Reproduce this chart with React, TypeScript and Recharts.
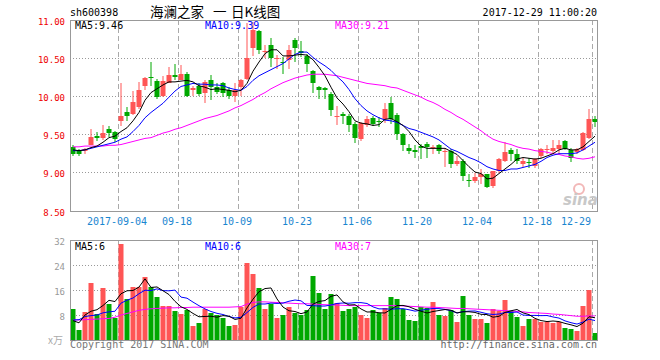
import React from 'react';
import { ComposedChart, Bar, Line, XAxis, YAxis } from 'recharts';

// ---------- data ----------
const dates: string[] = [
  '2017-08-22','2017-08-23','2017-08-24','2017-08-25','2017-08-28','2017-08-29','2017-08-30','2017-08-31',
  '2017-09-04','2017-09-05','2017-09-06','2017-09-07','2017-09-08','2017-09-11','2017-09-12','2017-09-13','2017-09-14','2017-09-15',
  '2017-09-18','2017-09-19','2017-09-20','2017-09-21','2017-09-22','2017-09-25','2017-09-26','2017-09-27','2017-09-28','2017-09-29',
  '2017-10-09','2017-10-10','2017-10-11','2017-10-12','2017-10-13','2017-10-16','2017-10-17','2017-10-18','2017-10-19','2017-10-20',
  '2017-10-23','2017-10-24','2017-10-25','2017-10-26','2017-10-27','2017-10-30','2017-10-31',
  '2017-11-01','2017-11-02','2017-11-03','2017-11-06','2017-11-07','2017-11-08','2017-11-09','2017-11-10',
  '2017-11-13','2017-11-14','2017-11-15','2017-11-16','2017-11-17','2017-11-20','2017-11-21','2017-11-22','2017-11-23','2017-11-24',
  '2017-11-27','2017-11-28','2017-11-29','2017-11-30','2017-12-01','2017-12-04','2017-12-05','2017-12-06','2017-12-07','2017-12-08',
  '2017-12-11','2017-12-12','2017-12-13','2017-12-14','2017-12-15','2017-12-18','2017-12-19','2017-12-20','2017-12-21','2017-12-22',
  '2017-12-25','2017-12-26','2017-12-27','2017-12-28','2017-12-29',
];

const tickDates: string[] = ['2017-09-04','2017-09-18','2017-10-09','2017-10-23','2017-11-06','2017-11-20','2017-12-04','2017-12-18','2017-12-29'];
const tickLabels: string[] = ['2017-09-04','09-18','10-09','10-23','11-06','11-20','12-04','12-18','12-29'];

const priceTicks: number[] = [8.5, 9, 9.5, 10, 10.5, 11];
const volTicks: number[] = [8, 16, 24, 32];

const opens: number[] = [
  9.34,9.30,9.28,9.37,9.48,9.46,9.57,9.54,9.68,9.79,
  9.77,9.86,10.13,10.25,10.20,10.00,10.18,10.28,10.22,10.29,
  10.08,10.14,10.04,10.21,10.12,10.17,10.08,10.00,10.12,10.23,
  10.63,10.85,10.58,10.67,10.49,10.45,10.47,10.74,10.59,10.53,
  10.33,10.12,10.11,10.03,9.74,9.77,9.74,9.64,9.44,9.63,
  9.72,9.68,9.71,9.91,9.76,9.51,9.33,9.30,9.35,9.38,
  9.32,9.36,9.28,9.29,9.11,9.16,8.90,8.89,8.95,8.98,
  8.83,9.02,9.15,9.30,9.25,9.12,9.14,9.09,9.22,9.30,
  9.29,9.31,9.42,9.30,9.27,9.30,9.46,9.71,
];
const closes: number[] = [
  9.25,9.25,9.31,9.47,9.46,9.52,9.52,9.44,9.75,9.74,
  9.93,10.09,10.24,10.24,9.99,10.20,10.28,10.26,10.29,10.00,
  10.11,10.03,10.19,10.12,10.06,10.04,10.00,10.08,10.21,10.50,
  10.87,10.61,10.59,10.50,10.50,10.44,10.61,10.64,10.57,10.43,
  10.17,10.09,10.08,9.82,9.75,9.74,9.63,9.46,9.65,9.71,
  9.64,9.67,9.84,9.71,9.51,9.36,9.28,9.27,9.33,9.34,
  9.34,9.29,9.29,9.11,9.16,8.96,8.89,8.94,8.98,8.81,
  9.02,9.18,9.27,9.25,9.16,9.16,9.13,9.18,9.31,9.31,
  9.32,9.37,9.31,9.20,9.31,9.52,9.71,9.66,
];
const highs: number[] = [
  9.36,9.31,9.33,9.57,9.53,9.63,9.61,9.55,10.17,9.86,
  10.07,10.19,10.25,10.45,10.23,10.27,10.39,10.42,10.41,10.32,
  10.14,10.17,10.21,10.28,10.17,10.19,10.12,10.17,10.23,10.96,
  10.97,10.87,10.67,10.77,10.54,10.52,10.67,10.76,10.72,10.56,
  10.34,10.14,10.12,10.06,9.88,9.79,9.77,9.66,9.66,9.74,
  9.75,9.73,9.91,9.99,9.78,9.52,9.38,9.36,9.38,9.40,
  9.36,9.38,9.31,9.31,9.22,9.18,8.98,9.00,9.05,8.99,
  9.03,9.20,9.40,9.33,9.31,9.20,9.20,9.20,9.33,9.36,
  9.43,9.43,9.43,9.33,9.33,9.53,9.84,9.75,
];
const lows: number[] = [
  9.22,9.22,9.24,9.36,9.42,9.43,9.47,9.40,9.61,9.68,
  9.76,9.84,10.09,10.13,9.97,9.99,10.18,10.22,10.21,9.99,
  10.00,10.00,9.92,9.95,10.03,9.99,9.96,9.93,10.00,10.22,
  10.53,10.56,10.50,10.39,10.36,10.29,10.36,10.45,10.52,10.32,
  10.04,9.97,9.96,9.75,9.62,9.64,9.53,9.39,9.41,9.60,
  9.61,9.60,9.65,9.64,9.43,9.29,9.24,9.20,9.18,9.20,
  9.24,9.24,9.07,9.06,9.09,8.89,8.81,8.87,8.85,8.80,
  8.80,9.00,9.14,9.16,9.11,9.07,9.06,9.06,9.20,9.25,
  9.25,9.25,9.30,9.14,9.25,9.29,9.44,9.60,
];
const ma5: number[] = [
  9.30,9.29,9.30,9.33,9.35,9.40,9.46,9.48,9.54,9.59,
  9.68,9.79,9.95,10.05,10.10,10.15,10.19,10.19,10.20,10.21,
  10.19,10.14,10.12,10.09,10.10,10.09,10.08,10.06,10.08,10.17,
  10.33,10.45,10.56,10.61,10.61,10.53,10.53,10.54,10.55,10.54,
  10.48,10.38,10.27,10.12,9.98,9.90,9.80,9.68,9.65,9.64,
  9.62,9.63,9.70,9.71,9.67,9.62,9.54,9.43,9.35,9.32,
  9.32,9.32,9.32,9.28,9.24,9.16,9.08,9.01,8.99,8.92,
  8.93,8.99,9.05,9.11,9.18,9.20,9.19,9.18,9.19,9.22,
  9.25,9.30,9.32,9.30,9.30,9.34,9.41,9.48,
];
const ma10: number[] = [
  9.29,9.29,9.30,9.32,9.34,9.36,9.38,9.40,9.44,9.47,
  9.54,9.62,9.72,9.79,9.85,9.91,9.99,10.07,10.13,10.15,
  10.17,10.16,10.16,10.15,10.15,10.14,10.11,10.09,10.08,10.13,
  10.21,10.27,10.31,10.35,10.39,10.43,10.49,10.55,10.58,10.58,
  10.51,10.45,10.40,10.34,10.26,10.19,10.09,9.97,9.88,9.81,
  9.76,9.72,9.69,9.68,9.66,9.62,9.58,9.56,9.53,9.50,
  9.47,9.43,9.37,9.31,9.28,9.24,9.20,9.17,9.13,9.08,
  9.05,9.03,9.03,9.05,9.05,9.07,9.09,9.11,9.15,9.20,
  9.23,9.25,9.25,9.25,9.26,9.30,9.35,9.40,
];
const ma30: number[] = [
  9.34,9.34,9.35,9.35,9.35,9.35,9.36,9.36,9.37,9.39,
  9.41,9.43,9.45,9.46,9.49,9.52,9.54,9.57,9.59,9.62,
  9.65,9.68,9.71,9.73,9.75,9.78,9.81,9.85,9.88,9.92,
  9.96,10.01,10.05,10.10,10.14,10.18,10.21,10.24,10.26,10.28,
  10.29,10.29,10.29,10.28,10.27,10.25,10.23,10.21,10.19,10.17,
  10.16,10.15,10.14,10.12,10.11,10.08,10.05,10.02,9.99,9.95,
  9.92,9.88,9.83,9.79,9.74,9.70,9.65,9.60,9.55,9.49,
  9.44,9.41,9.39,9.37,9.34,9.32,9.31,9.29,9.28,9.27,
  9.25,9.24,9.22,9.21,9.19,9.18,9.19,9.21,
];
const volumes: number[] = [
  9.9,3.2,9.0,18.2,8.2,16.6,11.5,7.0,30.7,13.0,
  17.0,17.0,20.2,16.9,13.8,10.9,10.9,9.3,8.3,9.5,
  4.5,5.5,9.9,8.6,8.0,7.0,4.5,4.8,10.5,24.5,
  21.0,16.5,9.8,11.5,6.9,8.0,10.6,8.6,8.0,9.7,
  20.5,14.9,10.0,14.8,11.9,9.4,9.9,10.5,8.0,7.0,
  9.6,8.5,10.1,13.8,13.1,9.8,6.4,6.1,10.7,10.2,
  12.2,8.0,7.7,9.6,5.8,14.1,8.0,6.6,6.6,5.4,
  9.9,9.4,12.8,9.3,7.4,4.5,6.7,6.7,5.8,5.8,
  5.4,5.8,3.8,3.5,3.0,10.9,16.0,2.2,
];
const vma5: number[] = [
  6.2,5.5,8.0,9.2,9.7,11.04,12.7,12.3,14.8,15.76,
  15.84,16.94,19.58,16.82,16.98,15.76,14.54,12.36,10.64,9.78,
  8.5,7.42,7.54,7.6,7.3,7.8,7.6,6.58,6.96,10.26,
  13.06,15.46,16.46,16.66,13.14,10.54,9.36,9.12,8.42,8.98,
  11.48,12.34,12.62,13.98,14.42,12.2,11.2,11.3,9.94,8.96,
  9.0,8.72,8.64,9.8,11.02,11.06,10.64,9.84,9.22,8.64,
  9.12,9.44,9.76,9.54,8.66,9.04,9.04,8.82,8.22,8.14,
  7.3,7.58,8.82,9.36,9.76,8.68,8.14,6.92,6.22,5.9,
  6.08,5.9,5.32,4.86,4.3,5.4,7.44,7.12,
];
const vma10: number[] = [
  6.4,6.5,7.5,7.8,8.0,8.7,9.0,9.2,11.8,12.73,
  13.44,14.82,15.94,15.81,16.37,15.8,15.74,15.97,13.73,13.38,
  12.13,10.98,9.95,9.12,8.54,8.15,7.51,7.06,7.28,8.78,
  10.43,11.53,11.52,11.81,11.7,11.8,12.41,12.79,12.54,11.06,
  11.01,10.85,10.87,11.2,11.7,11.84,11.77,11.96,11.96,11.69,
  10.6,9.96,9.97,9.87,9.99,10.03,9.68,9.24,9.51,9.83,
  10.09,10.04,9.8,9.38,8.65,9.08,9.24,9.29,8.88,8.4,
  8.17,8.31,8.82,8.79,8.95,7.99,7.86,7.87,7.79,7.83,
  7.38,7.02,6.12,5.54,5.1,5.74,6.67,6.22,
];
const vma30: number[] = [
  6.4,6.4,6.5,6.6,6.7,6.8,6.9,7.3,8.0,8.5,
  9.0,9.5,9.8,10.0,10.1,10.2,10.3,10.3,10.4,10.4,
  10.5,10.5,10.5,10.5,10.5,10.5,10.5,10.6,10.7,11.5,
  12.0,12.2,12.2,12.1,12.0,11.9,11.8,11.7,11.6,11.6,
  11.5,11.4,11.3,11.2,11.2,11.1,11.0,11.0,11.0,11.0,
  11.0,11.0,11.0,11.0,11.0,10.9,10.8,10.7,10.6,10.5,
  10.5,10.4,10.3,10.2,10.1,10.1,10.0,9.9,9.8,9.7,
  9.6,9.5,9.4,9.3,9.1,9.0,8.8,8.7,8.6,8.5,
  8.3,8.2,8.0,7.8,7.6,7.6,7.7,7.7,
];

const rows = dates.map((date, i) => ({
  date,
  open: opens[i],
  close: closes[i],
  high: highs[i],
  low: lows[i],
  ma5: ma5[i],
  ma10: ma10[i],
  ma30: ma30[i],
  volume: volumes[i],
  vma5: vma5[i],
  vma10: vma10[i],
  vma30: vma30[i],
}));

// ---------- style / layout ----------
const RED = '#ff5555';
const GREEN = '#00a800';
const MONO = '"DejaVu Sans Mono", "Liberation Mono", monospace';
const CJK = '"Noto Sans CJK SC", sans-serif';
const PLOT_L = 70;
const PLOT_R = 598;
const P_TOP = 20;
const P_BOTTOM = 211;
const V_TOP = 10; // local to volume chart (page 240)
const V_BOTTOM = 110; // local (page 340)
const tickSet = new Set(tickDates);
const lastTick = tickDates[tickDates.length - 1];

const Candle = (props: any) => {
  const { x, width, y, height, payload } = props;
  if (payload == null) return null;
  const { open, close, high, low } = payload;
  const cx = x + width / 2;
  const top = Math.min(y, y + height);
  const h = Math.abs(height);
  const k = high > low ? h / (high - low) : 0;
  const yOf = (v: number) => top + (high - v) * k;
  const up = close >= open;
  const color = up ? RED : GREEN;
  const bTop = Math.round(yOf(Math.max(open, close)));
  const bBot = Math.round(yOf(Math.min(open, close)));
  const wx = cx - 0.5;
  return (
    <g>
      <line x1={wx} x2={wx} y1={Math.round(yOf(high))} y2={Math.round(yOf(low))} stroke={color} strokeWidth={1} />
      <rect x={cx - 3} y={bTop} width={5} height={Math.max(1, bBot - bTop)} fill={color} />
    </g>
  );
};

const VolBar = (props: any) => {
  const { x, width, y, height, payload } = props;
  if (payload == null) return null;
  const cx = x + width / 2;
  const top = Math.round(Math.min(y, y + height));
  const bot = Math.round(Math.max(y, y + height));
  const up = payload.close >= payload.open;
  return <rect x={cx - 3} y={top} width={5} height={Math.max(1, bot - top)} fill={up ? RED : GREEN} />;
};

const makeDateTick = (top: number, bottom: number, withLabel: boolean) => (props: any) => {
  const { x, payload } = props;
  const v = payload?.value;
  if (!tickSet.has(v)) return <g />;
  const gx = Math.floor(x - 3) + 0.5;
  const isLast = v === lastTick;
  const label = tickLabels[tickDates.indexOf(v)];
  return (
    <g>
      <line x1={gx} x2={gx} y1={top} y2={bottom} stroke="#aaaaaa" strokeDasharray="5 3" />
      {withLabel && (
        <text x={x - 4} y={225} textAnchor={isLast ? 'end' : 'middle'} fontFamily={MONO} fontSize={10} fill="#1a86d0">
          {label}
        </text>
      )}
    </g>
  );
};

const PriceTick = (props: any) => {
  const { y, payload } = props;
  const v = payload.value as number;
  const gy = Math.floor(y) + 0.5;
  return (
    <g>
      {v > 8.5 && v < 11 && (
        <line x1={PLOT_L} x2={PLOT_R} y1={gy} y2={gy} stroke="#999999" strokeDasharray="1 2" />
      )}
      <text x={PLOT_L - 5} y={y + 4.5} textAnchor="end" fontFamily={MONO} fontSize={9} fill="#ee0000">
        {v.toFixed(2)}
      </text>
    </g>
  );
};

const VolTick = (props: any) => {
  const { y, payload } = props;
  const v = payload.value as number;
  const gy = Math.floor(y) + 0.5;
  return (
    <g>
      {v < 32 && <line x1={PLOT_L} x2={PLOT_R} y1={gy} y2={gy} stroke="#999999" strokeDasharray="1 2" />}
      <text x={PLOT_L - 5} y={y + 4.5} textAnchor="end" fontFamily={MONO} fontSize={9} fill="#999999">
        {String(v)}
      </text>
    </g>
  );
};

const abs = (top: number): React.CSSProperties => ({ position: 'absolute', left: 0, top });

export default function App() {
  return (
    <div style={{ position: 'fixed', left: 0, top: 0, width: 660, height: 360, background: '#fff', overflow: 'hidden' }}>
      {/* price background: grid + axis labels */}
      <div style={abs(0)}>
        <ComposedChart width={660} height={230} data={rows} margin={{ top: P_TOP, right: 660 - PLOT_R, bottom: 0, left: 0 }}>
          <XAxis dataKey="date" scale="band" interval={0} height={230 - P_BOTTOM} tickLine={false} axisLine={false}
            tick={makeDateTick(P_TOP, P_BOTTOM, true)} />
          <YAxis type="number" domain={[8.5, 11]} ticks={priceTicks} width={PLOT_L} tickLine={false} axisLine={false}
            tick={PriceTick} allowDataOverflow interval={0} />
          <Bar dataKey="close" fill="none" isAnimationActive={false} />
        </ComposedChart>
      </div>
      {/* price foreground: candles + MAs */}
      <div style={abs(0)}>
        <ComposedChart width={660} height={230} data={rows} margin={{ top: P_TOP, right: 660 - PLOT_R, bottom: 230 - P_BOTTOM, left: PLOT_L }}>
          <XAxis dataKey="date" scale="band" hide />
          <YAxis type="number" domain={[8.5, 11]} hide allowDataOverflow />
          <Bar dataKey={(d: any) => [d.low, d.high]} barSize={5} shape={Candle} isAnimationActive={false} />
          <Line type="linear" dataKey="ma30" stroke="#ff00ff" strokeWidth={1} dot={false} isAnimationActive={false} />
          <Line type="linear" dataKey="ma10" stroke="#0000ff" strokeWidth={1} dot={false} isAnimationActive={false} />
          <Line type="linear" dataKey="ma5" stroke="#000000" strokeWidth={1} dot={false} isAnimationActive={false} />
        </ComposedChart>
      </div>
      {/* volume background */}
      <div style={abs(230)}>
        <ComposedChart width={660} height={130} data={rows} margin={{ top: V_TOP, right: 660 - PLOT_R, bottom: 0, left: 0 }}>
          <XAxis dataKey="date" scale="band" interval={0} height={130 - V_BOTTOM} tickLine={false} axisLine={false}
            tick={makeDateTick(V_TOP, V_BOTTOM, false)} />
          <YAxis type="number" domain={[0, 32]} ticks={volTicks} width={PLOT_L} tickLine={false} axisLine={false}
            tick={VolTick} allowDataOverflow interval={0} />
          <Bar dataKey="volume" fill="none" isAnimationActive={false} />
        </ComposedChart>
      </div>
      {/* volume foreground */}
      <div style={abs(230)}>
        <ComposedChart width={660} height={130} data={rows} margin={{ top: V_TOP, right: 660 - PLOT_R, bottom: 130 - V_BOTTOM, left: PLOT_L }}>
          <XAxis dataKey="date" scale="band" hide />
          <YAxis type="number" domain={[0, 32]} hide allowDataOverflow />
          <Bar dataKey="volume" barSize={5} shape={VolBar} isAnimationActive={false} />
          <Line type="linear" dataKey="vma30" stroke="#ff00ff" strokeWidth={1} dot={false} isAnimationActive={false} />
          <Line type="linear" dataKey="vma10" stroke="#0000ff" strokeWidth={1} dot={false} isAnimationActive={false} />
          <Line type="linear" dataKey="vma5" stroke="#000000" strokeWidth={1} dot={false} isAnimationActive={false} />
        </ComposedChart>
      </div>
      {/* frames and static text */}
      <svg width={660} height={360} style={{ position: 'absolute', left: 0, top: 0, pointerEvents: 'none' }}>
        <rect x={70.5} y={20.5} width={527} height={191} fill="none" stroke="#999999" />
        <rect x={70.5} y={240.5} width={527} height={100} fill="none" stroke="#999999" />
        <text x={70} y={16} fontFamily={MONO} fontSize={10} fill="#000">sh600398</text>
        <text x={150} y={17} fontFamily={CJK} fontSize={13.5} fill="#000">海澜之家</text>
        <text x={213} y={17} fontFamily={CJK} fontSize={13.5} fill="#000">一</text>
        <text x={231} y={17} fontFamily={CJK} fontSize={13.5} fill="#000">日K线图</text>
        <text x={597} y={16} textAnchor="end" fontFamily={MONO} fontSize={10} fill="#000">2017-12-29 11:00:20</text>
        <text x={75} y={29} fontFamily={MONO} fontSize={10} fill="#000">MA5:9.46</text>
        <text x={205} y={29} fontFamily={MONO} fontSize={10} fill="#0000ff">MA10:9.39</text>
        <text x={335} y={29} fontFamily={MONO} fontSize={10} fill="#ff00ff">MA30:9.21</text>
        <text x={75} y={250} fontFamily={MONO} fontSize={10} fill="#000">MA5:6</text>
        <text x={205} y={250} fontFamily={MONO} fontSize={10} fill="#0000ff">MA10:6</text>
        <text x={335} y={250} fontFamily={MONO} fontSize={10} fill="#ff00ff">MA30:7</text>
        <text x={48} y={344} fontFamily={CJK} fontSize={10} fill="#aaaaaa">x万</text>
        <text x={70} y={348} fontFamily={MONO} fontSize={10} fill="#777777">Copyright 2017 SINA.COM</text>
        <text x={597} y={348} textAnchor="end" fontFamily={MONO} fontSize={10} fill="#666666">http://finance.sina.com.cn</text>
        <circle cx={579} cy={189} r={5} fill="none" stroke="#f2b8b8" strokeWidth={2} />
        <text x={563} y={205} fontFamily={'"DejaVu Sans", sans-serif'} fontStyle="italic" fontWeight="bold" fontSize={15} fill="#c8c8c8">sina</text>
      </svg>
    </div>
  );
}
